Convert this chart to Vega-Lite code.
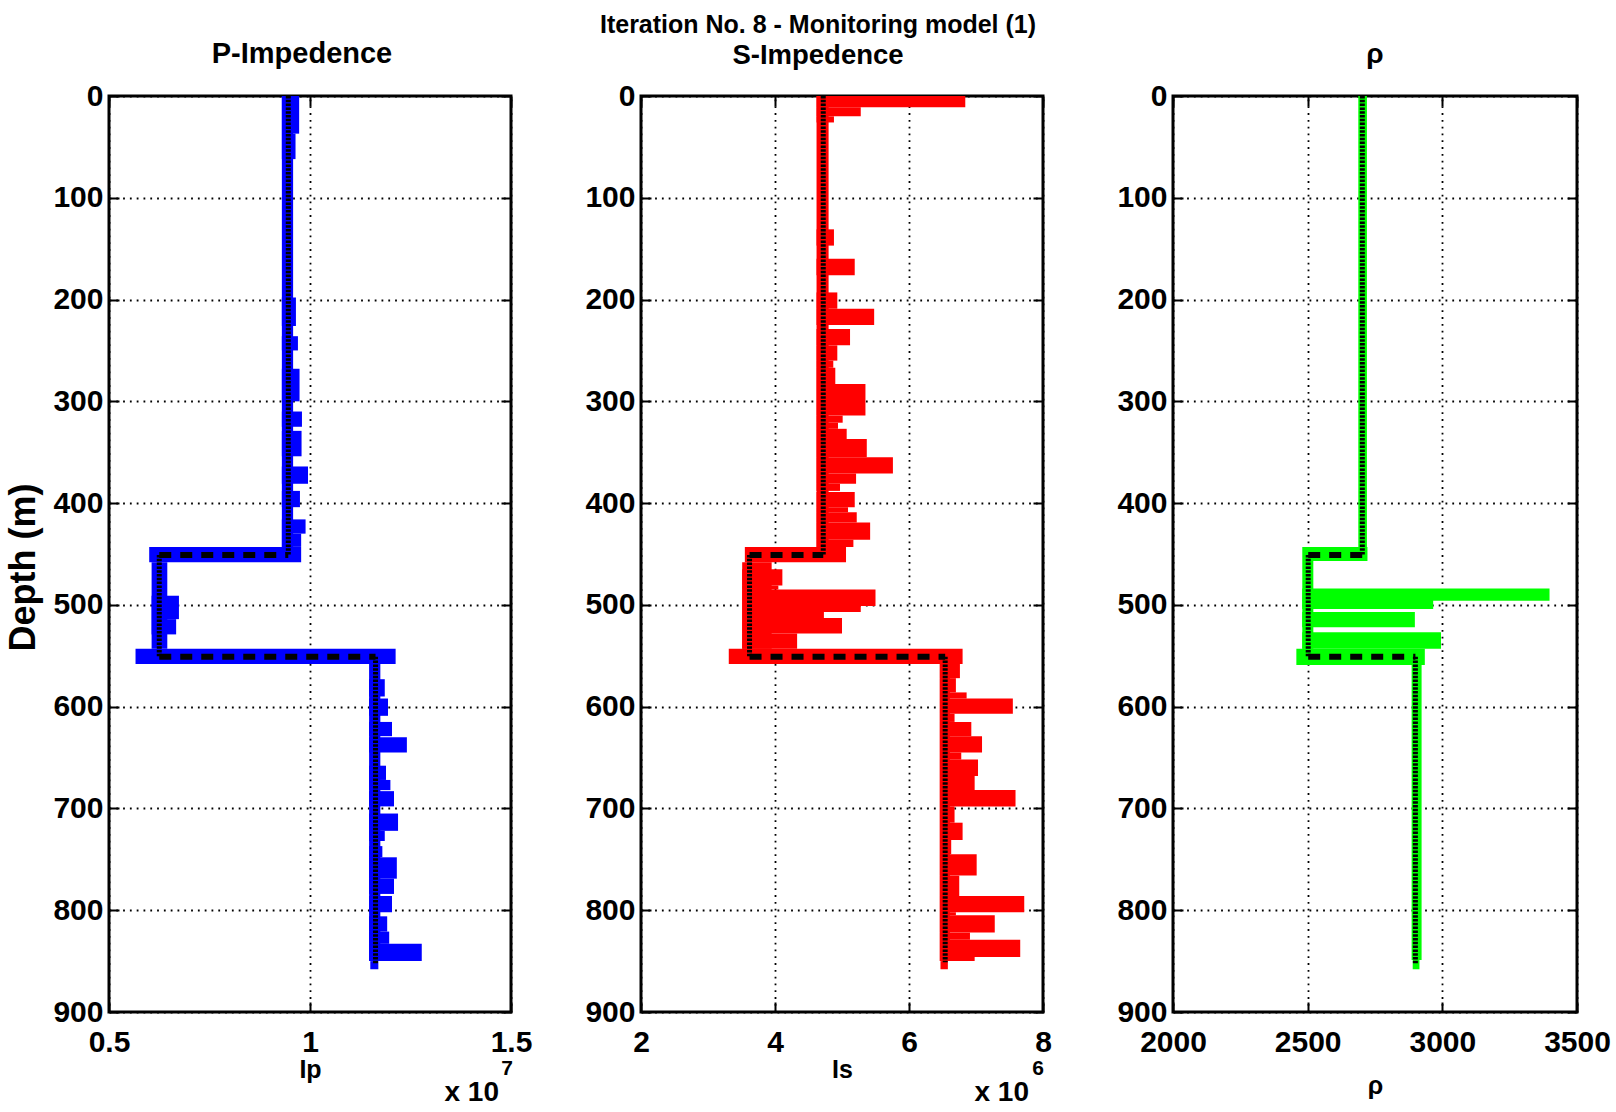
{
  "$schema": "https://vega.github.io/schema/vega-lite/v6.json",
  "background": "white",
  "padding": {"left": 4, "top": 11, "right": 2, "bottom": 2},
  "config": {
    "view": {"stroke": "black", "strokeWidth": 3},
    "axis": {
      "domain": false,
      "tickColor": "black", "tickWidth": 2, "tickSize": -10,
      "labelColor": "black", "labelFont": "Liberation Sans", "labelFontWeight": "bold", "labelFontSize": 30,
      "labelFlush": false, "labelOverlap": false,
      "titleColor": "black", "titleFont": "Liberation Sans", "titleFontWeight": "bold",
      "gridColor": "black", "gridOpacity": 1, "gridDash": [1.8, 5], "gridWidth": 1.8
    },
    "axisBottom": {"labelPadding": 25, "titlePadding": 0, "titleFontSize": 25},
    "axisLeft": {"labelPadding": 16, "titlePadding": 10, "titleFontSize": 36},
    "title": {"font": "Liberation Sans", "fontWeight": "bold", "color": "black", "subtitleFont": "Liberation Sans", "subtitleFontWeight": "bold", "subtitleColor": "black"}
  },
  "datasets": {
    "blocks": [
      {"p": "P", "d1": 0, "d2": 443, "lo": 0.93, "hi": 0.958},
      {"p": "P", "d1": 0, "d2": 37, "lo": 0.93, "hi": 0.973},
      {"p": "P", "d1": 37, "d2": 62, "lo": 0.93, "hi": 0.964},
      {"p": "P", "d1": 198, "d2": 226, "lo": 0.93, "hi": 0.965},
      {"p": "P", "d1": 236, "d2": 250, "lo": 0.93, "hi": 0.97},
      {"p": "P", "d1": 268, "d2": 300, "lo": 0.93, "hi": 0.974},
      {"p": "P", "d1": 310, "d2": 325, "lo": 0.93, "hi": 0.98},
      {"p": "P", "d1": 329, "d2": 354, "lo": 0.93, "hi": 0.979},
      {"p": "P", "d1": 364, "d2": 381, "lo": 0.93, "hi": 0.995},
      {"p": "P", "d1": 388, "d2": 404, "lo": 0.93, "hi": 0.975},
      {"p": "P", "d1": 416, "d2": 430, "lo": 0.93, "hi": 0.989},
      {"p": "P", "d1": 430, "d2": 443, "lo": 0.93, "hi": 0.978},
      {"p": "P", "d1": 443, "d2": 458, "lo": 0.6, "hi": 0.978},
      {"p": "P", "d1": 458, "d2": 543, "lo": 0.606, "hi": 0.645},
      {"p": "P", "d1": 491, "d2": 514, "lo": 0.606, "hi": 0.674},
      {"p": "P", "d1": 514, "d2": 529, "lo": 0.606, "hi": 0.667},
      {"p": "P", "d1": 543, "d2": 558, "lo": 0.566, "hi": 1.213},
      {"p": "P", "d1": 558, "d2": 850, "lo": 1.147, "hi": 1.175},
      {"p": "P", "d1": 573, "d2": 590, "lo": 1.147, "hi": 1.186},
      {"p": "P", "d1": 592, "d2": 609, "lo": 1.147, "hi": 1.194},
      {"p": "P", "d1": 615, "d2": 629, "lo": 1.147, "hi": 1.204},
      {"p": "P", "d1": 630, "d2": 645, "lo": 1.147, "hi": 1.241},
      {"p": "P", "d1": 658, "d2": 672, "lo": 1.147, "hi": 1.189},
      {"p": "P", "d1": 672, "d2": 682, "lo": 1.147, "hi": 1.2},
      {"p": "P", "d1": 683, "d2": 698, "lo": 1.147, "hi": 1.209},
      {"p": "P", "d1": 705, "d2": 722, "lo": 1.147, "hi": 1.219},
      {"p": "P", "d1": 722, "d2": 732, "lo": 1.147, "hi": 1.186},
      {"p": "P", "d1": 737, "d2": 748, "lo": 1.147, "hi": 1.18},
      {"p": "P", "d1": 748, "d2": 769, "lo": 1.147, "hi": 1.216},
      {"p": "P", "d1": 769, "d2": 784, "lo": 1.147, "hi": 1.209},
      {"p": "P", "d1": 786, "d2": 802, "lo": 1.147, "hi": 1.204},
      {"p": "P", "d1": 806, "d2": 821, "lo": 1.147, "hi": 1.192},
      {"p": "P", "d1": 821, "d2": 833, "lo": 1.147, "hi": 1.197},
      {"p": "P", "d1": 833, "d2": 850, "lo": 1.147, "hi": 1.278},
      {"p": "P", "d1": 850, "d2": 858, "lo": 1.15, "hi": 1.17},

      {"p": "S", "d1": 0, "d2": 443, "lo": 4.62, "hi": 4.8},
      {"p": "S", "d1": 0, "d2": 11, "lo": 4.62, "hi": 6.84},
      {"p": "S", "d1": 11, "d2": 20, "lo": 4.62, "hi": 5.28},
      {"p": "S", "d1": 20, "d2": 26, "lo": 4.62, "hi": 4.88},
      {"p": "S", "d1": 131, "d2": 147, "lo": 4.62, "hi": 4.88},
      {"p": "S", "d1": 160, "d2": 176, "lo": 4.62, "hi": 5.19},
      {"p": "S", "d1": 193, "d2": 209, "lo": 4.62, "hi": 4.93},
      {"p": "S", "d1": 209, "d2": 225, "lo": 4.62, "hi": 5.48},
      {"p": "S", "d1": 229, "d2": 245, "lo": 4.62, "hi": 5.12},
      {"p": "S", "d1": 245, "d2": 260, "lo": 4.62, "hi": 4.93},
      {"p": "S", "d1": 260, "d2": 267, "lo": 4.62, "hi": 4.87},
      {"p": "S", "d1": 267, "d2": 283, "lo": 4.62, "hi": 4.9},
      {"p": "S", "d1": 283, "d2": 314, "lo": 4.62, "hi": 5.35},
      {"p": "S", "d1": 314, "d2": 321, "lo": 4.62, "hi": 5.01},
      {"p": "S", "d1": 321, "d2": 327, "lo": 4.62, "hi": 4.94},
      {"p": "S", "d1": 327, "d2": 337, "lo": 4.62, "hi": 5.07},
      {"p": "S", "d1": 337, "d2": 355, "lo": 4.62, "hi": 5.37},
      {"p": "S", "d1": 355, "d2": 371, "lo": 4.62, "hi": 5.76},
      {"p": "S", "d1": 371, "d2": 381, "lo": 4.62, "hi": 5.21},
      {"p": "S", "d1": 381, "d2": 388, "lo": 4.62, "hi": 4.97},
      {"p": "S", "d1": 389, "d2": 404, "lo": 4.62, "hi": 5.19},
      {"p": "S", "d1": 404, "d2": 409, "lo": 4.62, "hi": 5.09},
      {"p": "S", "d1": 409, "d2": 419, "lo": 4.62, "hi": 5.22},
      {"p": "S", "d1": 419, "d2": 436, "lo": 4.62, "hi": 5.42},
      {"p": "S", "d1": 436, "d2": 443, "lo": 4.62, "hi": 5.17},
      {"p": "S", "d1": 443, "d2": 458, "lo": 3.55, "hi": 5.06},
      {"p": "S", "d1": 458, "d2": 543, "lo": 3.51, "hi": 3.95},
      {"p": "S", "d1": 465, "d2": 481, "lo": 3.51, "hi": 4.11},
      {"p": "S", "d1": 481, "d2": 485, "lo": 3.51, "hi": 4.05},
      {"p": "S", "d1": 485, "d2": 501, "lo": 3.51, "hi": 5.5},
      {"p": "S", "d1": 501, "d2": 507, "lo": 3.51, "hi": 5.28},
      {"p": "S", "d1": 507, "d2": 513, "lo": 3.51, "hi": 4.73},
      {"p": "S", "d1": 513, "d2": 528, "lo": 3.51, "hi": 5.0},
      {"p": "S", "d1": 528, "d2": 543, "lo": 3.51, "hi": 4.33},
      {"p": "S", "d1": 543, "d2": 558, "lo": 3.31, "hi": 6.8},
      {"p": "S", "d1": 558, "d2": 850, "lo": 6.46, "hi": 6.61},
      {"p": "S", "d1": 558, "d2": 572, "lo": 6.46, "hi": 6.76},
      {"p": "S", "d1": 572, "d2": 586, "lo": 6.46, "hi": 6.7},
      {"p": "S", "d1": 586, "d2": 592, "lo": 6.46, "hi": 6.86},
      {"p": "S", "d1": 592, "d2": 607, "lo": 6.46, "hi": 7.55},
      {"p": "S", "d1": 607, "d2": 615, "lo": 6.46, "hi": 6.68},
      {"p": "S", "d1": 615, "d2": 629, "lo": 6.46, "hi": 6.93},
      {"p": "S", "d1": 629, "d2": 645, "lo": 6.46, "hi": 7.09},
      {"p": "S", "d1": 645, "d2": 652, "lo": 6.46, "hi": 6.78},
      {"p": "S", "d1": 652, "d2": 668, "lo": 6.46, "hi": 7.03},
      {"p": "S", "d1": 668, "d2": 682, "lo": 6.46, "hi": 6.98},
      {"p": "S", "d1": 682, "d2": 698, "lo": 6.46, "hi": 7.59},
      {"p": "S", "d1": 698, "d2": 714, "lo": 6.46, "hi": 6.68},
      {"p": "S", "d1": 714, "d2": 731, "lo": 6.46, "hi": 6.8},
      {"p": "S", "d1": 731, "d2": 745, "lo": 6.46, "hi": 6.63},
      {"p": "S", "d1": 745, "d2": 766, "lo": 6.46, "hi": 7.01},
      {"p": "S", "d1": 766, "d2": 786, "lo": 6.46, "hi": 6.75},
      {"p": "S", "d1": 786, "d2": 802, "lo": 6.46, "hi": 7.72},
      {"p": "S", "d1": 802, "d2": 805, "lo": 6.46, "hi": 6.7},
      {"p": "S", "d1": 805, "d2": 822, "lo": 6.46, "hi": 7.28},
      {"p": "S", "d1": 822, "d2": 829, "lo": 6.46, "hi": 6.91},
      {"p": "S", "d1": 829, "d2": 846, "lo": 6.46, "hi": 7.66},
      {"p": "S", "d1": 846, "d2": 850, "lo": 6.46, "hi": 6.98},
      {"p": "S", "d1": 850, "d2": 858, "lo": 6.47, "hi": 6.58},

      {"p": "R", "d1": 0, "d2": 443, "lo": 2688, "hi": 2720},
      {"p": "R", "d1": 443, "d2": 457, "lo": 2480, "hi": 2722},
      {"p": "R", "d1": 457, "d2": 543, "lo": 2480, "hi": 2521},
      {"p": "R", "d1": 484, "d2": 496, "lo": 2480, "hi": 3398},
      {"p": "R", "d1": 495, "d2": 504, "lo": 2480, "hi": 2966},
      {"p": "R", "d1": 507, "d2": 522, "lo": 2480, "hi": 2898},
      {"p": "R", "d1": 527, "d2": 543, "lo": 2480, "hi": 2995},
      {"p": "R", "d1": 543, "d2": 559, "lo": 2458, "hi": 2935},
      {"p": "R", "d1": 559, "d2": 849, "lo": 2886, "hi": 2923},
      {"p": "R", "d1": 849, "d2": 858, "lo": 2890, "hi": 2915}
    ],
    "vsegs": [
      {"p": "P", "v": 0.946, "d1": 0, "d2": 451},
      {"p": "P", "v": 0.625, "d1": 451, "d2": 551},
      {"p": "P", "v": 1.163, "d1": 551, "d2": 853},
      {"p": "S", "v": 4.72, "d1": 0, "d2": 451},
      {"p": "S", "v": 3.62, "d1": 451, "d2": 551},
      {"p": "S", "v": 6.54, "d1": 551, "d2": 851},
      {"p": "R", "v": 2703, "d1": 0, "d2": 451},
      {"p": "R", "v": 2502, "d1": 451, "d2": 551},
      {"p": "R", "v": 2900, "d1": 551, "d2": 852}
    ],
    "hsegs": [
      {"p": "P", "d": 451, "x1": 0.625, "x2": 0.946},
      {"p": "P", "d": 551, "x1": 0.625, "x2": 1.163},
      {"p": "S", "d": 451, "x1": 3.62, "x2": 4.72},
      {"p": "S", "d": 551, "x1": 3.62, "x2": 6.54},
      {"p": "R", "d": 451, "x1": 2502, "x2": 2703},
      {"p": "R", "d": 551, "x1": 2502, "x2": 2900}
    ]
  },
  "bounds": "flush",
  "spacing": 130,
  "hconcat": [
    {
      "width": 402, "height": 916,
      "title": {"text": "P-Impedence", "fontSize": 29, "dx": -8, "offset": 12},
      "layer": [
        {
          "data": {"name": "blocks"},
          "transform": [{"filter": "datum.p === 'P'"}],
          "mark": {"type": "rect", "color": "#0000ff"},
          "encoding": {
            "x": {"field": "lo", "type": "quantitative", "scale": {"domain": [0.5, 1.5], "nice": false, "zero": false},
                  "axis": {"values": [0.5, 1, 1.5], "format": "~g", "grid": true, "title": "Ip"}},
            "x2": {"field": "hi"},
            "y": {"field": "d1", "type": "quantitative", "scale": {"domain": [0, 900], "reverse": true, "nice": false, "zero": false},
                  "axis": {"values": [0, 100, 200, 300, 400, 500, 600, 700, 800, 900], "format": "d", "grid": true, "title": "Depth (m)", "titleY": 471}},
            "y2": {"field": "d2"}
          }
        },
        {
          "data": {"name": "vsegs"},
          "transform": [{"filter": "datum.p === 'P'"}],
          "mark": {"type": "rule", "color": "black", "strokeWidth": 5, "strokeDash": [2.5, 1.3]},
          "encoding": {
            "x": {"field": "v", "type": "quantitative", "axis": {"orient": "top", "values": [0.5, 1, 1.5], "labels": false, "grid": false, "title": null}},
            "y": {"field": "d1", "type": "quantitative", "axis": {"orient": "right", "values": [0, 100, 200, 300, 400, 500, 600, 700, 800, 900], "labels": false, "grid": false, "title": null}},
            "y2": {"field": "d2"}
          }
        },
        {
          "data": {"name": "hsegs"},
          "transform": [{"filter": "datum.p === 'P'"}],
          "mark": {"type": "rule", "color": "black", "strokeWidth": 6, "strokeDash": [12, 9]},
          "encoding": {
            "y": {"field": "d", "type": "quantitative", "axis": null},
            "x": {"field": "x1", "type": "quantitative", "axis": null},
            "x2": {"field": "x2"}
          }
        },
        {
          "data": {"values": [{"t": "x 10"}]},
          "mark": {"type": "text", "align": "right", "baseline": "alphabetic", "dx": -12, "dy": 89, "fontSize": 28, "fontWeight": "bold", "font": "Liberation Sans", "color": "black"},
          "encoding": {"x": {"datum": 1.5, "axis": null}, "y": {"datum": 900, "axis": null}, "text": {"field": "t"}}
        },
        {
          "data": {"values": [{"t": "7"}]},
          "mark": {"type": "text", "align": "center", "baseline": "alphabetic", "dx": -4, "dy": 63, "fontSize": 21, "fontWeight": "bold", "font": "Liberation Sans", "color": "black"},
          "encoding": {"x": {"datum": 1.5, "axis": null}, "y": {"datum": 900, "axis": null}, "text": {"field": "t"}}
        }
      ],
      "resolve": {"axis": {"x": "independent", "y": "independent"}}
    },
    {
      "width": 402, "height": 916,
      "title": {"text": "Iteration No. 8 - Monitoring model (1)", "fontSize": 25, "subtitle": "S-Impedence", "subtitleFontSize": 27.5, "subtitlePadding": 4, "dx": -24, "offset": 12},
      "layer": [
        {
          "data": {"name": "blocks"},
          "transform": [{"filter": "datum.p === 'S'"}],
          "mark": {"type": "rect", "color": "#ff0000"},
          "encoding": {
            "x": {"field": "lo", "type": "quantitative", "scale": {"domain": [2, 8], "nice": false, "zero": false},
                  "axis": {"values": [2, 4, 6, 8], "format": "d", "grid": true, "title": "Is"}},
            "x2": {"field": "hi"},
            "y": {"field": "d1", "type": "quantitative", "scale": {"domain": [0, 900], "reverse": true, "nice": false, "zero": false},
                  "axis": {"values": [0, 100, 200, 300, 400, 500, 600, 700, 800, 900], "format": "d", "grid": true, "title": null}},
            "y2": {"field": "d2"}
          }
        },
        {
          "data": {"name": "vsegs"},
          "transform": [{"filter": "datum.p === 'S'"}],
          "mark": {"type": "rule", "color": "black", "strokeWidth": 5, "strokeDash": [2.5, 1.3]},
          "encoding": {
            "x": {"field": "v", "type": "quantitative", "axis": {"orient": "top", "values": [2, 4, 6, 8], "labels": false, "grid": false, "title": null}},
            "y": {"field": "d1", "type": "quantitative", "axis": {"orient": "right", "values": [0, 100, 200, 300, 400, 500, 600, 700, 800, 900], "labels": false, "grid": false, "title": null}},
            "y2": {"field": "d2"}
          }
        },
        {
          "data": {"name": "hsegs"},
          "transform": [{"filter": "datum.p === 'S'"}],
          "mark": {"type": "rule", "color": "black", "strokeWidth": 6, "strokeDash": [12, 9]},
          "encoding": {
            "y": {"field": "d", "type": "quantitative", "axis": null},
            "x": {"field": "x1", "type": "quantitative", "axis": null},
            "x2": {"field": "x2"}
          }
        },
        {
          "data": {"values": [{"t": "x 10"}]},
          "mark": {"type": "text", "align": "right", "baseline": "alphabetic", "dx": -14, "dy": 89, "fontSize": 28, "fontWeight": "bold", "font": "Liberation Sans", "color": "black"},
          "encoding": {"x": {"datum": 8, "axis": null}, "y": {"datum": 900, "axis": null}, "text": {"field": "t"}}
        },
        {
          "data": {"values": [{"t": "6"}]},
          "mark": {"type": "text", "align": "center", "baseline": "alphabetic", "dx": -5, "dy": 63, "fontSize": 21, "fontWeight": "bold", "font": "Liberation Sans", "color": "black"},
          "encoding": {"x": {"datum": 8, "axis": null}, "y": {"datum": 900, "axis": null}, "text": {"field": "t"}}
        }
      ],
      "resolve": {"axis": {"x": "independent", "y": "independent"}}
    },
    {
      "width": 404, "height": 916,
      "title": {"text": "ρ", "fontSize": 28, "offset": 12},
      "layer": [
        {
          "data": {"name": "blocks"},
          "transform": [{"filter": "datum.p === 'R'"}],
          "mark": {"type": "rect", "color": "#00ff00"},
          "encoding": {
            "x": {"field": "lo", "type": "quantitative", "scale": {"domain": [2000, 3500], "nice": false, "zero": false},
                  "axis": {"values": [2000, 2500, 3000, 3500], "format": "d", "grid": true, "title": "ρ", "titlePadding": 16}},
            "x2": {"field": "hi"},
            "y": {"field": "d1", "type": "quantitative", "scale": {"domain": [0, 900], "reverse": true, "nice": false, "zero": false},
                  "axis": {"values": [0, 100, 200, 300, 400, 500, 600, 700, 800, 900], "format": "d", "grid": true, "title": null}},
            "y2": {"field": "d2"}
          }
        },
        {
          "data": {"name": "vsegs"},
          "transform": [{"filter": "datum.p === 'R'"}],
          "mark": {"type": "rule", "color": "black", "strokeWidth": 5, "strokeDash": [2.5, 1.3]},
          "encoding": {
            "x": {"field": "v", "type": "quantitative", "axis": {"orient": "top", "values": [2000, 2500, 3000, 3500], "labels": false, "grid": false, "title": null}},
            "y": {"field": "d1", "type": "quantitative", "axis": {"orient": "right", "values": [0, 100, 200, 300, 400, 500, 600, 700, 800, 900], "labels": false, "grid": false, "title": null}},
            "y2": {"field": "d2"}
          }
        },
        {
          "data": {"name": "hsegs"},
          "transform": [{"filter": "datum.p === 'R'"}],
          "mark": {"type": "rule", "color": "black", "strokeWidth": 6, "strokeDash": [12, 9]},
          "encoding": {
            "y": {"field": "d", "type": "quantitative", "axis": null},
            "x": {"field": "x1", "type": "quantitative", "axis": null},
            "x2": {"field": "x2"}
          }
        }
      ],
      "resolve": {"axis": {"x": "independent", "y": "independent"}}
    }
  ]
}
